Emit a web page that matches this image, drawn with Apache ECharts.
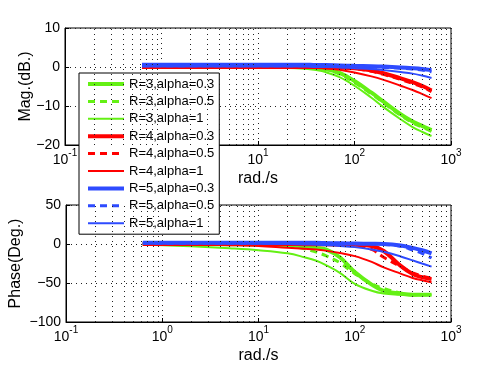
<!DOCTYPE html>
<html>
<head>
<meta charset="utf-8">
<script src="https://cdn.jsdelivr.net/npm/echarts@6/dist/echarts.min.js"></script>
<style>
  html, body { margin: 0; padding: 0; background: #fff; }
  #chart { width: 498px; height: 375px; }
</style>
</head>
<body>
<div id="chart"></div>
<script>
// 频率点 (rad/s)
var W = [0.628, 1, 2, 5, 10, 20, 30, 40, 50, 70, 100, 150, 200, 300, 400, 500, 628];

// 幅值 (dB)
var MAG_R3_A03 = [0, 0, 0, 0, 0, 0, -0.1, -0.2, -0.5, -1.5, -3.6, -6.6, -8.9, -12.1, -14, -15.1, -16.2];
var MAG_R3_A05 = [0, 0, 0, 0, 0, 0, -0.1, -0.3, -0.6, -1.8, -4.0, -6.9, -9.2, -12.4, -14.3, -15.4, -16.5];
var MAG_R3_A1  = [0, 0, 0, 0, 0, -0.1, -0.4, -0.8, -1.3, -2.6, -4.8, -7.9, -10.3, -13.4, -15.4, -16.6, -17.7];
var MAG_R4_A03 = [0, 0, 0, 0, 0, 0, 0, 0, -0.1, -0.2, -0.3, -0.9, -1.6, -2.9, -3.9, -4.8, -6];
var MAG_R4_A05 = [0, 0, 0, 0, 0, 0, 0, 0, -0.1, -0.2, -0.4, -1.1, -1.9, -3.2, -4.2, -5.1, -6.3];
var MAG_R4_A1  = [0, 0, 0, 0, 0, 0, -0.1, -0.2, -0.3, -0.7, -1.4, -2.4, -3.3, -4.8, -5.9, -6.9, -8];
var MAG_R5_A03 = [0.6, 0.6, 0.6, 0.6, 0.6, 0.6, 0.6, 0.5, 0.5, 0.4, 0.3, 0.2, 0.1, -0.1, -0.3, -0.5, -0.8];
var MAG_R5_A05 = [0.3, 0.3, 0.3, 0.3, 0.3, 0.3, 0.3, 0.3, 0.3, 0.2, 0.1, 0, -0.1, -0.3, -0.5, -0.8, -1.2];
var MAG_R5_A1  = [0.1, 0.1, 0.1, 0.1, 0.1, 0.1, 0.1, 0, 0, -0.1, -0.3, -0.5, -0.8, -1.3, -1.7, -2.2, -2.8];

// 相位 (deg)
var PH_R3_A03 = [0, 0, 0, -0.3, -0.5, -1.5, -3, -5, -7, -17, -36, -52, -60, -63.5, -65, -65, -65];
var PH_R3_A05 = [0, 0, -0.2, -0.5, -1, -3, -6, -10.5, -15, -24, -38, -51, -57, -63, -65, -65, -65];
var PH_R3_A1  = [-1, -1.5, -3, -5.5, -8, -12, -17, -21.5, -27, -37, -51, -60, -63.5, -65, -66, -65.5, -65];
var PH_R4_A03 = [0, 0, 0, 0, 0, 0, -0.2, -0.3, -0.4, -0.6, -1, -2.5, -9, -28, -38.5, -42.5, -45];
var PH_R4_A05 = [0, 0, 0, 0, 0, -0.2, -0.3, -0.5, -0.6, -1, -2, -7, -17, -29, -37, -41, -44];
var PH_R4_A1  = [0, -0.3, -0.6, -1.5, -2.5, -4.8, -6, -7, -8.5, -11.5, -15.5, -23, -30, -38, -43.5, -46.5, -49];
var PH_R5_A03 = [1.5, 1.5, 1.5, 1.5, 1.5, 1.5, 1.5, 1.5, 1.2, 1, 0.5, 0.3, 0, -2, -5, -8, -12];
var PH_R5_A05 = [1, 1, 1, 1, 1, 1, 1, 1, 1, 0.8, 0.5, 0, -0.5, -3, -7.7, -12, -18];
var PH_R5_A1  = [1, 1, 1, 1, 0.5, 0, -0.5, -1, -1.5, -2.5, -4, -7, -10, -16, -21, -25, -29];

var NAMES = ['R=3,alpha=0.3', 'R=3,alpha=0.5', 'R=3,alpha=1',
             'R=4,alpha=0.3', 'R=4,alpha=0.5', 'R=4,alpha=1',
             'R=5,alpha=0.3', 'R=5,alpha=0.5', 'R=5,alpha=1'];
var MAGS = [MAG_R3_A03, MAG_R3_A05, MAG_R3_A1, MAG_R4_A03, MAG_R4_A05, MAG_R4_A1, MAG_R5_A03, MAG_R5_A05, MAG_R5_A1];
var PHS = [PH_R3_A03, PH_R3_A05, PH_R3_A1, PH_R4_A03, PH_R4_A05, PH_R4_A1, PH_R5_A03, PH_R5_A05, PH_R5_A1];

var COLORS = ['#64f014', '#ff0000', '#2e4bff'];
// alpha=0.3 粗实线, 0.5 虚线, 1 细实线
var WIDTHS = [4, 3, 2];
var TYPES = ['solid', [7, 5], 'solid'];

var FONT = 'Liberation Sans, Arial, Helvetica, sans-serif';

// 对数轴次网格 2..9
var minorTicks = [];
for (var d = -1; d < 3; d++) {
  for (var k = 2; k <= 9; k++) minorTicks.push(k * Math.pow(10, d));
}

var GRID_LINE = { color: '#222', type: [1, 4], width: 1 };

function xAxisOf(idx) {
  return {
    type: 'log', gridIndex: idx, logBase: 10, min: 0.1, max: 1000,
    name: 'rad./s', nameLocation: 'middle', nameGap: 26,
    nameTextStyle: { fontSize: 16, color: '#000', fontFamily: FONT },
    axisLine: { onZero: false, lineStyle: { color: '#000', width: 1 } },
    axisTick: { inside: true, length: 4, lineStyle: { color: '#000' } },
    axisLabel: {
      margin: 3,
      formatter: function (v) {
        var e = Math.round(Math.log(v) / Math.LN10);
        return '{b|10}{s|' + e + '}';
      },
      rich: {
        b: { fontSize: 14, color: '#000', fontFamily: FONT, lineHeight: 19, verticalAlign: 'bottom' },
        s: { fontSize: 10, color: '#000', fontFamily: FONT, lineHeight: 10, verticalAlign: 'top' }
      }
    },
    splitLine: { show: true, lineStyle: GRID_LINE }
  };
}

function yAxisOf(idx, min, max, step, name, gap) {
  return {
    type: 'value', gridIndex: idx, min: min, max: max, interval: step,
    name: name, nameLocation: 'middle', nameGap: gap, nameMoveOverlap: false,
    nameTextStyle: { fontSize: 16, color: '#000', fontFamily: FONT },
    axisLine: { show: true, lineStyle: { color: '#000', width: 1 } },
    axisTick: { inside: true, length: 4, lineStyle: { color: '#000' } },
    axisLabel: {
      margin: 5, fontSize: 14, color: '#000', fontFamily: FONT,
      formatter: function (v) { return String(v).replace('-', '\u2212'); }
    },
    splitLine: { show: true, lineStyle: GRID_LINE }
  };
}

function minorSeries(idx) {
  return {
    type: 'line', xAxisIndex: idx, yAxisIndex: idx, data: [], silent: true,
    markLine: {
      silent: true, symbol: ['none', 'none'], label: { show: false },
      lineStyle: GRID_LINE,
      emphasis: { disabled: true },
      data: minorTicks.map(function (v) { return { xAxis: v }; })
    }
  };
}

var series = [minorSeries(0), minorSeries(1)];
[MAGS, PHS].forEach(function (set, idx) {
  for (var i = 0; i < NAMES.length; i++) {
    var g = Math.floor(i / 3), a = i % 3;
    series.push({
      name: NAMES[i], type: 'line', xAxisIndex: idx, yAxisIndex: idx,
      showSymbol: false, symbol: 'none', smooth: 0.4,
      data: W.map(function (w, j) { return [w, set[i][j]]; }),
      lineStyle: { color: COLORS[g], width: WIDTHS[a], type: TYPES[a] },
      itemStyle: { color: COLORS[g] },
      emphasis: { disabled: true }
    });
  }
});

var chart = echarts.init(document.getElementById('chart'));
chart.setOption({
  animation: false,
  backgroundColor: '#fff',
  grid: [
    { left: 65, top: 28, width: 386, height: 117, show: true, borderColor: '#000', borderWidth: 1 },
    { left: 65, top: 205, width: 386, height: 117, show: true, borderColor: '#000', borderWidth: 1 }
  ],
  xAxis: [xAxisOf(0), xAxisOf(1)],
  yAxis: [
    yAxisOf(0, -20, 10, 10, 'Mag.(dB.)', 31),
    yAxisOf(1, -100, 50, 50, 'Phase(Deg.)', 42)
  ],
  legend: {
    data: NAMES, orient: 'vertical', left: 79, top: 73,
    itemWidth: 36, itemHeight: 13, itemGap: 4.4,
    padding: [4.5, 5, 4.5, 7],
    backgroundColor: '#fff', borderColor: '#000', borderWidth: 1,
    selectedMode: false,
    itemStyle: { opacity: 0, borderWidth: 0 },
    lineStyle: { width: 'inherit' },
    textStyle: { fontSize: 13, color: '#000', fontFamily: FONT, lineHeight: 13 }
  },
  series: series
});
</script>
</body>
</html>
